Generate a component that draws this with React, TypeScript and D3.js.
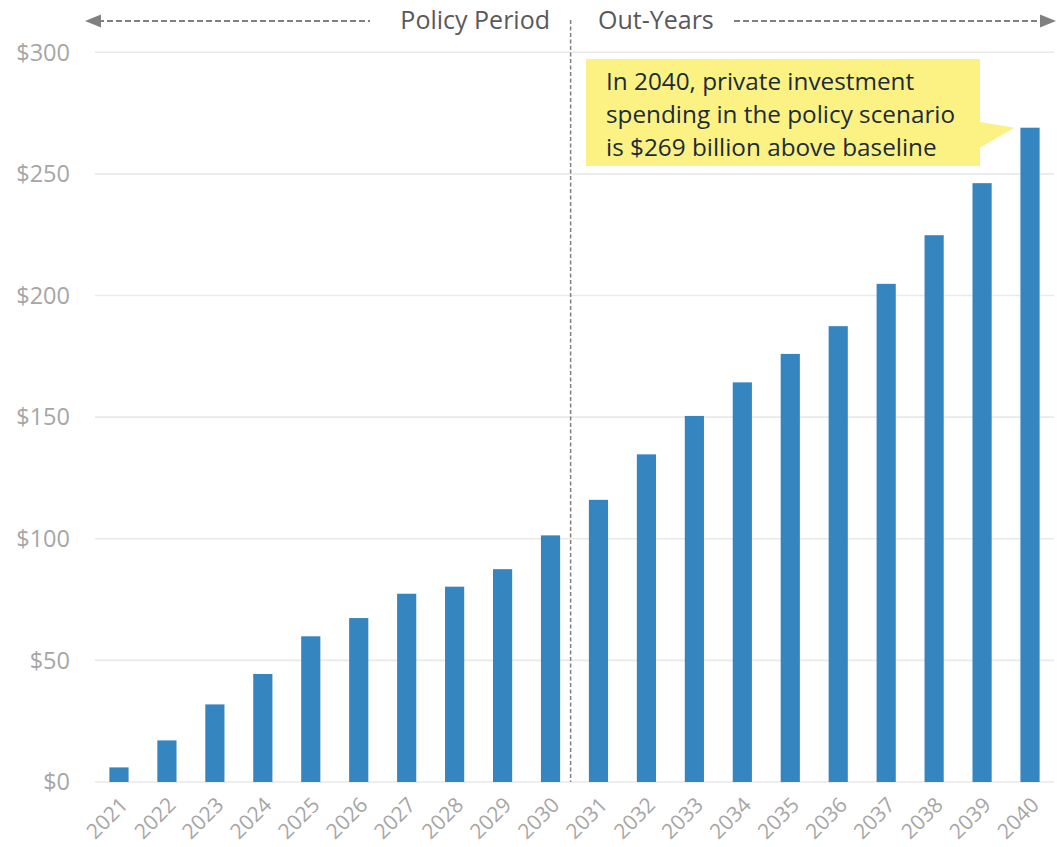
import React from "react";
import * as d3 from "d3";

const years = ["2021","2022","2023","2024","2025","2026","2027","2028","2029","2030","2031","2032","2033","2034","2035","2036","2037","2038","2039","2040"];
const values = [6, 17.1, 31.9, 44.4, 59.9, 67.4, 77.4, 80.3, 87.5, 101.4, 116, 134.7, 150.5, 164.3, 176, 187.4, 204.8, 224.8, 246.2, 269];
const yTicks = [0, 50, 100, 150, 200, 250, 300];
const annotationLines = ["In 2040, private investment", "spending in the policy scenario", "is $269 billion above baseline"];

const W = 1057, H = 847;
const FONT = "'Segoe UI', 'Open Sans', 'Noto Sans', sans-serif";

export default function App() {
  const x = d3.scaleBand<string>().domain(years).range([95, 1054]).paddingInner(0.6).paddingOuter(0.3);
  const y = d3.scaleLinear().domain([0, 300]).range([782, 52.3]);
  const bw = x.bandwidth();
  const divX = (x("2030") as number) + bw + 10.5;
  const lastX = x("2040") as number;
  const lastY = y(values[values.length - 1]);

  return (
    <div style={{ position: "absolute", left: 0, top: 0 }}>
      <svg width={W} height={H} style={{ display: "block", background: "#fff" }} fontFamily={FONT}>
        {yTicks.map((t) => (
          <g key={t}>
            <line x1={95} x2={1054} y1={y(t)} y2={y(t)} stroke="#e9e9e9" strokeWidth={1.6} />
            <text x={70} y={y(t)} dy="0.35em" textAnchor="end" fontSize={23.5} fill="#a6a6a6">{d3.format("$")(t).replace(".00","")}</text>
          </g>
        ))}
        {years.map((yr, i) => (
          <rect key={yr} x={x(yr)} y={y(values[i])} width={bw} height={y(0) - y(values[i])} fill="#3585c0" />
        ))}
        {years.map((yr) => {
          const cx = (x(yr) as number) + bw / 2 + 5;
          const cy = 801;
          return (
            <text key={yr} x={cx} y={cy} transform={`rotate(-45 ${cx} ${cy})`} textAnchor="end" dy="0.35em" fontSize={21} fill="#a6a6a6">{yr}</text>
          );
        })}
        <line x1={divX} x2={divX} y1={20} y2={782} stroke="#7f7f7f" strokeWidth={1.5} strokeDasharray="4 2.5" />
        {/* top labels */}
        <line x1={98} x2={370} y1={21} y2={21} stroke="#808080" strokeWidth={2} strokeDasharray="6 3" />
        <polygon points="85,21 101,14.5 101,27.5" fill="#808080" />
        <text x={550} y={29} textAnchor="end" fontSize={25} fill="#595959">Policy Period</text>
        <text x={598} y={29} textAnchor="start" fontSize={25} fill="#595959">Out-Years</text>
        <line x1={734} x2={1043} y1={21} y2={21} stroke="#808080" strokeWidth={2} strokeDasharray="6 3" />
        <polygon points="1056,21 1040,14.5 1040,27.5" fill="#808080" />
        {/* annotation */}
        <rect x={586} y={59} width={394} height={107} fill="#fbf283" />
        <polygon points={`979,121.7 ${lastX - 6},${lastY} 979,148.3`} fill="#fbf283" />
        {annotationLines.map((l, i) => (
          <text key={i} x={606} y={89.5 + i * 33.3} fontSize={24.3} fill="#1c2b3b">{l}</text>
        ))}
      </svg>
    </div>
  );
}
